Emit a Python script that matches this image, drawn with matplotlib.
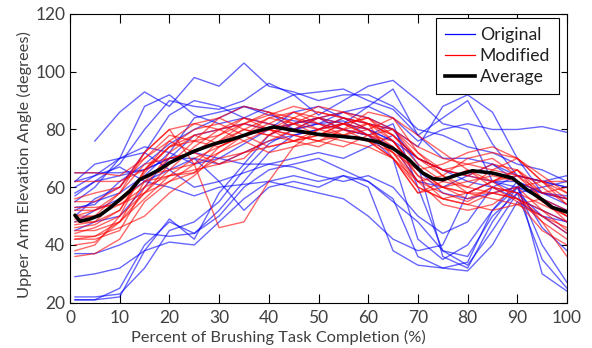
import numpy as np
import matplotlib
matplotlib.use("Agg")
import matplotlib.pyplot as plt
from matplotlib.lines import Line2D

plt.rcParams['font.family'] = ['Lato', 'DejaVu Sans']

# ---------------- data ----------------
x_pts = [1, 5, 10, 15, 20, 25, 30, 35, 40, 45, 50, 55, 60, 65, 70, 75, 80, 85, 90, 95, 100]

nan = float('nan')
original = [
    [21, 21, 22, 38, 49, 42, 58, 68, 78, 82, 84, 80, 78, 82, 60, 38, 33, 45, 58, 35, 25],
    [22, 22, 23, 32, 45, 48, 55, 66, 75, 80, 82, 83, 78, 70, 42, 35, 40, 52, 62, 30, 24],
    [21, 21, 25, 40, 48, 44, 52, 62, 72, 78, 80, 84, 82, 80, 68, 36, 32, 48, 60, 40, 27],
    [29, 30, 32, 38, 41, 40, 48, 56, 62, 64, 62, 64, 60, 38, 33, 32, 31, 40, 55, 50, 44],
    [37, 37, 40, 44, 43, 44, 50, 60, 66, 68, 70, 66, 62, 55, 48, 38, 36, 50, 58, 50, 48],
    [60, 64, 67, 62, 60, 57, 60, 61, 62, 60, 58, 56, 50, 42, 38, 40, 58, 62, 62, 58, 56],
    [65, 65, 65, 66, 70, 72, 70, 68, 68, 70, 72, 70, 74, 78, 70, 66, 64, 62, 60, 58, 57],
    [nan, 76, 86, 93, 88, 98, 95, 103, 95, 93, 90, 92, 92, 88, 80, 78, 74, 72, 68, 66, 62],
    [57, 62, 68, 80, 90, 88, 87, 90, 96, 92, 93, 94, 90, 87, 78, 84, 90, 75, 64, 62, 60],
    [55, 60, 70, 88, 92, 85, 82, 84, 88, 92, 85, 90, 95, 97, 90, 82, 80, 62, 58, 60, 62],
    [62, 68, 70, 74, 72, 68, 70, 75, 80, 82, 84, 82, 88, 84, 76, 80, 82, 80, 80, 81, 79],
    [52, 55, 58, 64, 72, 84, 86, 88, 86, 80, 82, 86, 84, 80, 74, 88, 92, 86, 70, 58, 54],
    [48, 52, 56, 62, 66, 70, 68, 72, 76, 78, 80, 82, 80, 76, 70, 66, 62, 60, 56, 52, 48],
    [53, 54, 62, 68, 75, 80, 84, 88, 85, 83, 82, 80, 78, 74, 62, 60, 64, 68, 62, 58, 56],
    [58, 62, 64, 66, 70, 70, 62, 52, 60, 62, 60, 64, 62, 56, 36, 32, 34, 52, 60, 46, 38],
    [62, 64, 70, 72, 66, 60, 62, 65, 68, 67, 64, 62, 64, 60, 50, 44, 48, 60, 64, 62, 60],
    [50, 56, 60, 72, 85, 90, 88, 84, 82, 80, 84, 86, 88, 94, 78, 70, 70, 68, 64, 62, 64],
    [45, 48, 50, 60, 70, 78, 80, 82, 80, 86, 88, 84, 80, 76, 66, 58, 56, 58, 60, 56, 52],
]

modified = [
    [36, 37, 42, 55, 62, 68, 76, 80, 78, 82, 84, 80, 76, 70, 58, 60, 56, 60, 55, 45, 40],
    [42, 42, 45, 60, 72, 78, 75, 80, 84, 82, 86, 84, 80, 72, 62, 58, 55, 60, 58, 48, 42],
    [43, 43, 46, 50, 58, 64, 72, 78, 82, 86, 84, 82, 78, 76, 66, 60, 62, 64, 62, 55, 50],
    [45, 45, 48, 58, 66, 74, 80, 84, 82, 80, 78, 82, 84, 76, 64, 56, 54, 58, 56, 50, 46],
    [48, 48, 52, 65, 74, 76, 78, 82, 85, 88, 86, 84, 82, 78, 68, 62, 60, 66, 70, 62, 54],
    [52, 52, 55, 62, 64, 65, 74, 78, 80, 78, 76, 80, 86, 84, 72, 66, 64, 62, 64, 58, 60],
    [53, 53, 54, 58, 62, 65, 70, 72, 74, 76, 78, 80, 82, 80, 74, 70, 68, 66, 64, 62, 62],
    [65, 65, 64, 70, 76, 82, 84, 80, 78, 76, 80, 84, 82, 70, 62, 64, 70, 72, 70, 64, 58],
    [40, 41, 48, 62, 70, 72, 76, 82, 86, 84, 80, 78, 76, 72, 60, 56, 58, 62, 66, 56, 48],
    [50, 52, 58, 72, 80, 68, 46, 48, 62, 74, 80, 82, 84, 78, 70, 66, 68, 70, 64, 56, 52],
    [46, 47, 52, 66, 74, 80, 82, 78, 74, 76, 78, 82, 80, 74, 62, 54, 52, 54, 60, 52, 45],
    [44, 46, 50, 58, 68, 76, 84, 88, 86, 82, 80, 82, 78, 72, 66, 68, 72, 74, 70, 62, 56],
    [56, 58, 60, 72, 80, 82, 80, 76, 72, 74, 76, 78, 80, 84, 78, 72, 66, 60, 58, 54, 50],
    [47, 48, 56, 64, 66, 68, 72, 76, 80, 84, 88, 86, 82, 76, 66, 60, 58, 56, 54, 50, 44],
    [38, 40, 50, 66, 74, 78, 80, 82, 80, 78, 76, 74, 78, 80, 70, 64, 60, 58, 56, 48, 36],
    [62, 62, 62, 66, 76, 72, 68, 70, 78, 84, 82, 80, 78, 74, 64, 60, 58, 62, 66, 60, 54],
    [50, 50, 54, 60, 64, 66, 68, 72, 76, 80, 84, 86, 84, 80, 72, 64, 58, 58, 60, 62, 58],
    [42, 43, 48, 56, 64, 70, 74, 78, 80, 82, 78, 76, 74, 70, 60, 56, 54, 52, 54, 56, 50],
    [55, 55, 60, 70, 78, 76, 74, 78, 84, 86, 82, 78, 76, 70, 58, 62, 66, 62, 56, 52, 48],
    [49, 50, 58, 68, 70, 72, 78, 84, 80, 76, 74, 78, 82, 78, 70, 66, 64, 68, 66, 58, 56],
]

avg_x = [1, 2, 4, 6, 8, 10, 12, 14, 16, 18, 20, 22, 25, 29, 33, 37, 41, 45, 50, 54,
         58, 62, 65, 68, 70, 71, 73, 75, 78, 81, 85, 89, 92, 95, 97, 100]
avg_y = [50.3, 48.2, 49.0, 50.3, 52.8, 55.7, 58.6, 62.6, 64.3, 66.1, 68.4, 70.1, 72.5,
         75.0, 76.8, 79.1, 80.9, 79.7, 78.3, 77.7, 77.0, 75.7, 73.4, 69.9, 66.5, 64.9,
         63.0, 62.6, 64.3, 65.7, 64.9, 63.2, 59.1, 55.7, 53.0, 51.4]

x_ticks = [0, 10, 20, 30, 40, 50, 60, 70, 80, 90, 100]
y_ticks = [20, 40, 60, 80, 100, 120]
legend_labels = ['Original', 'Modified', 'Average']

# ---------------- plot ----------------
fig = plt.figure(figsize=(5.92, 3.48), dpi=100)
ax = fig.add_axes([70 / 592, 1 - 302.7 / 348, 497 / 592, 288.7 / 348])

for row in original:
    ax.plot(x_pts, row, color=(0, 0, 1), alpha=0.6, lw=1.0)
for row in modified:
    ax.plot(x_pts, row, color=(1, 0, 0), alpha=0.6, lw=1.0)
ax.plot(avg_x, avg_y, color='black', lw=2.6, solid_capstyle='round')

ax.set_xlim(0, 100)
ax.set_ylim(20, 120)
ax.set_xticks(x_ticks)
ax.set_yticks(y_ticks)
ax.tick_params(axis='both', direction='in', top=True, right=True,
               labelsize=12.5, labelcolor='#404040', color='black', width=0.8)
ax.tick_params(axis='x', length=6.5, pad=5.5)
ax.tick_params(axis='y', length=4.3, pad=3.5)
for s in ax.spines.values():
    s.set_linewidth(0.8)
    s.set_color('black')

ax.set_xlabel('Percent of Brushing Task Completion (%)', fontsize=11.8, color='#404040', labelpad=3)
ax.xaxis.set_label_coords(0.419, -0.12)
ax.xaxis.label.set_va('center')
ax.set_ylabel('Upper Arm Elevation Angle (degrees)', fontsize=11.8, color='#404040')
ax.yaxis.set_label_coords(-0.092, 0.477)
ax.yaxis.label.set_va('center')

handles = [Line2D([], [], color='blue', lw=0.9),
           Line2D([], [], color='red', lw=0.9),
           Line2D([], [], color='black', lw=2.6)]
leg = ax.legend(handles, legend_labels, loc='upper right',
                bbox_to_anchor=(0.984, 0.986), borderaxespad=0,
                fancybox=False, framealpha=1, edgecolor='black',
                fontsize=12.7, handlelength=1.7, handletextpad=0.3,
                labelspacing=0.3, borderpad=0.5)
leg.get_frame().set_linewidth(0.8)
for t in leg.get_texts():
    t.set_color('#202020')

fig.savefig('out.png', dpi=100)
